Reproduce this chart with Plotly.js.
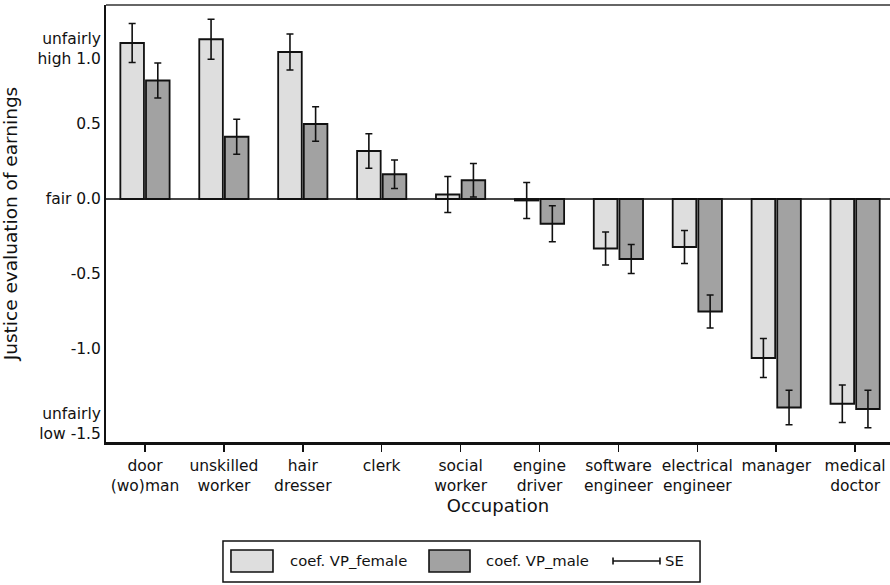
<!DOCTYPE html>
<html>
<head>
<meta charset="utf-8">
<script src="https://cdn.plot.ly/plotly-3.0.1.min.js"></script>
<style>html,body{margin:0;padding:0;background:#fff;}#chart{width:890px;height:585px;}</style>
</head>
<body>
<div id="chart"></div>
<script>
// ---- data ----
const occupations = [
  'door<br>(wo)man', 'unskilled<br>worker', 'hair<br>dresser', 'clerk', 'social<br>worker',
  'engine<br>driver', 'software<br>engineer', 'electrical<br>engineer', 'manager', 'medical<br>doctor'
];
const coefFemale = [1.04, 1.065, 0.98, 0.32, 0.03, -0.01, -0.33, -0.32, -1.06, -1.365];
const seFemale   = [0.13, 0.133, 0.12, 0.115, 0.12, 0.12, 0.11, 0.11, 0.13, 0.125];
const coefMale   = [0.79, 0.415, 0.50, 0.165, 0.125, -0.165, -0.40, -0.75, -1.39, -1.40];
const seMale     = [0.117, 0.117, 0.115, 0.095, 0.112, 0.12, 0.097, 0.11, 0.115, 0.125];
const yTickVals  = [1.0, 0.5, 0.0, -0.5, -1.0, -1.5];
const yTickText  = ['unfairly<br>high 1.0', '0.5', 'fair 0.0', '-0.5', '-1.0', 'unfairly<br>low -1.5'];
const legendLabels = ['coef. VP_female', 'coef. VP_male', 'SE'];

const FONT = 'DejaVu Sans, Liberation Sans, Arial, sans-serif';
const cFemale = '#dedede', cMale = '#a2a2a2';
const xIdx = occupations.map((_, i) => i);

const errStyle = {type: 'data', visible: true, color: '#111', thickness: 1.6, width: 3.5};

const traces = [
  {type: 'bar', name: legendLabels[0], x: xIdx, y: coefFemale,
   marker: {color: cFemale, line: {color: '#111', width: 1.8}},
   error_y: Object.assign({array: seFemale}, errStyle), hoverinfo: 'y'},
  {type: 'bar', name: legendLabels[1], x: xIdx, y: coefMale,
   marker: {color: cMale, line: {color: '#111', width: 1.8}},
   error_y: Object.assign({array: seMale}, errStyle), hoverinfo: 'y'}
];

// legend drawn in paper coordinates below the plot
const L = {
  box: [0.1492, 0.7577, -0.3204, -0.2265],
  sw1: [0.1594, 0.2130], sw2: [0.4120, 0.4643], swy: [-0.2975, -0.2471],
  t1: 0.2321, t2: 0.4821, t3: 0.7105, ty: -0.2723,
  se: [0.6467, 0.7066], cap: [-0.2803, -0.2643]
};
const shapes = [
  {type: 'line', xref: 'paper', yref: 'paper', x0: 0, x1: 1, y0: 1, y1: 1, line: {color: '#333', width: 1.5}},
  {type: 'rect', xref: 'paper', yref: 'paper', x0: L.box[0], x1: L.box[1], y0: L.box[2], y1: L.box[3], line: {color: '#111', width: 1.5}, fillcolor: 'rgba(0,0,0,0)'},
  {type: 'rect', xref: 'paper', yref: 'paper', x0: L.sw1[0], x1: L.sw1[1], y0: L.swy[0], y1: L.swy[1], line: {color: '#111', width: 1.6}, fillcolor: cFemale},
  {type: 'rect', xref: 'paper', yref: 'paper', x0: L.sw2[0], x1: L.sw2[1], y0: L.swy[0], y1: L.swy[1], line: {color: '#111', width: 1.6}, fillcolor: cMale},
  {type: 'line', xref: 'paper', yref: 'paper', x0: L.se[0], x1: L.se[1], y0: L.ty, y1: L.ty, line: {color: '#111', width: 1.6}},
  {type: 'line', xref: 'paper', yref: 'paper', x0: L.se[0], x1: L.se[0], y0: L.cap[0], y1: L.cap[1], line: {color: '#111', width: 1.6}},
  {type: 'line', xref: 'paper', yref: 'paper', x0: L.se[1], x1: L.se[1], y0: L.cap[0], y1: L.cap[1], line: {color: '#111', width: 1.6}}
];
const annFont = {family: FONT, size: 14.8, color: '#111'};
const annotations = [
  {xref: 'paper', yref: 'paper', x: L.t1, y: L.ty, text: legendLabels[0], showarrow: false, xanchor: 'left', yanchor: 'middle', font: annFont},
  {xref: 'paper', yref: 'paper', x: L.t2, y: L.ty, text: legendLabels[1], showarrow: false, xanchor: 'left', yanchor: 'middle', font: annFont},
  {xref: 'paper', yref: 'paper', x: L.t3, y: L.ty, text: legendLabels[2], showarrow: false, xanchor: 'left', yanchor: 'middle', font: annFont}
];

const layout = {
  width: 890, height: 585,
  margin: {l: 106, r: 0, t: 5, b: 143},
  paper_bgcolor: '#fff', plot_bgcolor: '#fff',
  font: {family: FONT, size: 15.5, color: '#111'},
  showlegend: false,
  barmode: 'group', bargap: 0.35, bargroupgap: 0.08,
  xaxis: {
    range: [-0.494, 9.442], tickmode: 'array', tickvals: xIdx, ticktext: occupations,
    ticks: 'outside', ticklen: 7, tickwidth: 1.6, tickcolor: '#111',
    showline: true, linecolor: '#111', linewidth: 3, showgrid: false, zeroline: false,
    tickfont: {family: FONT, size: 15.5, color: '#111'},
    title: {text: 'Occupation', font: {family: FONT, size: 18, color: '#111'}, standoff: 4}
  },
  yaxis: {
    range: [-1.62, 1.2933], tickmode: 'array', tickvals: yTickVals, ticktext: yTickText,
    ticks: '', showline: true, linecolor: '#111', linewidth: 2, showgrid: false,
    zeroline: true, zerolinecolor: '#444', zerolinewidth: 1.5,
    tickfont: {family: FONT, size: 15.5, color: '#111'},
    automargin: true,
    title: {text: 'Justice evaluation of earnings', font: {family: FONT, size: 18.5, color: '#111'}, standoff: 16}
  },
  shapes: shapes,
  annotations: annotations
};

Plotly.newPlot('chart', traces, layout, {displayModeBar: false, staticPlot: true});
</script>
</body>
</html>
